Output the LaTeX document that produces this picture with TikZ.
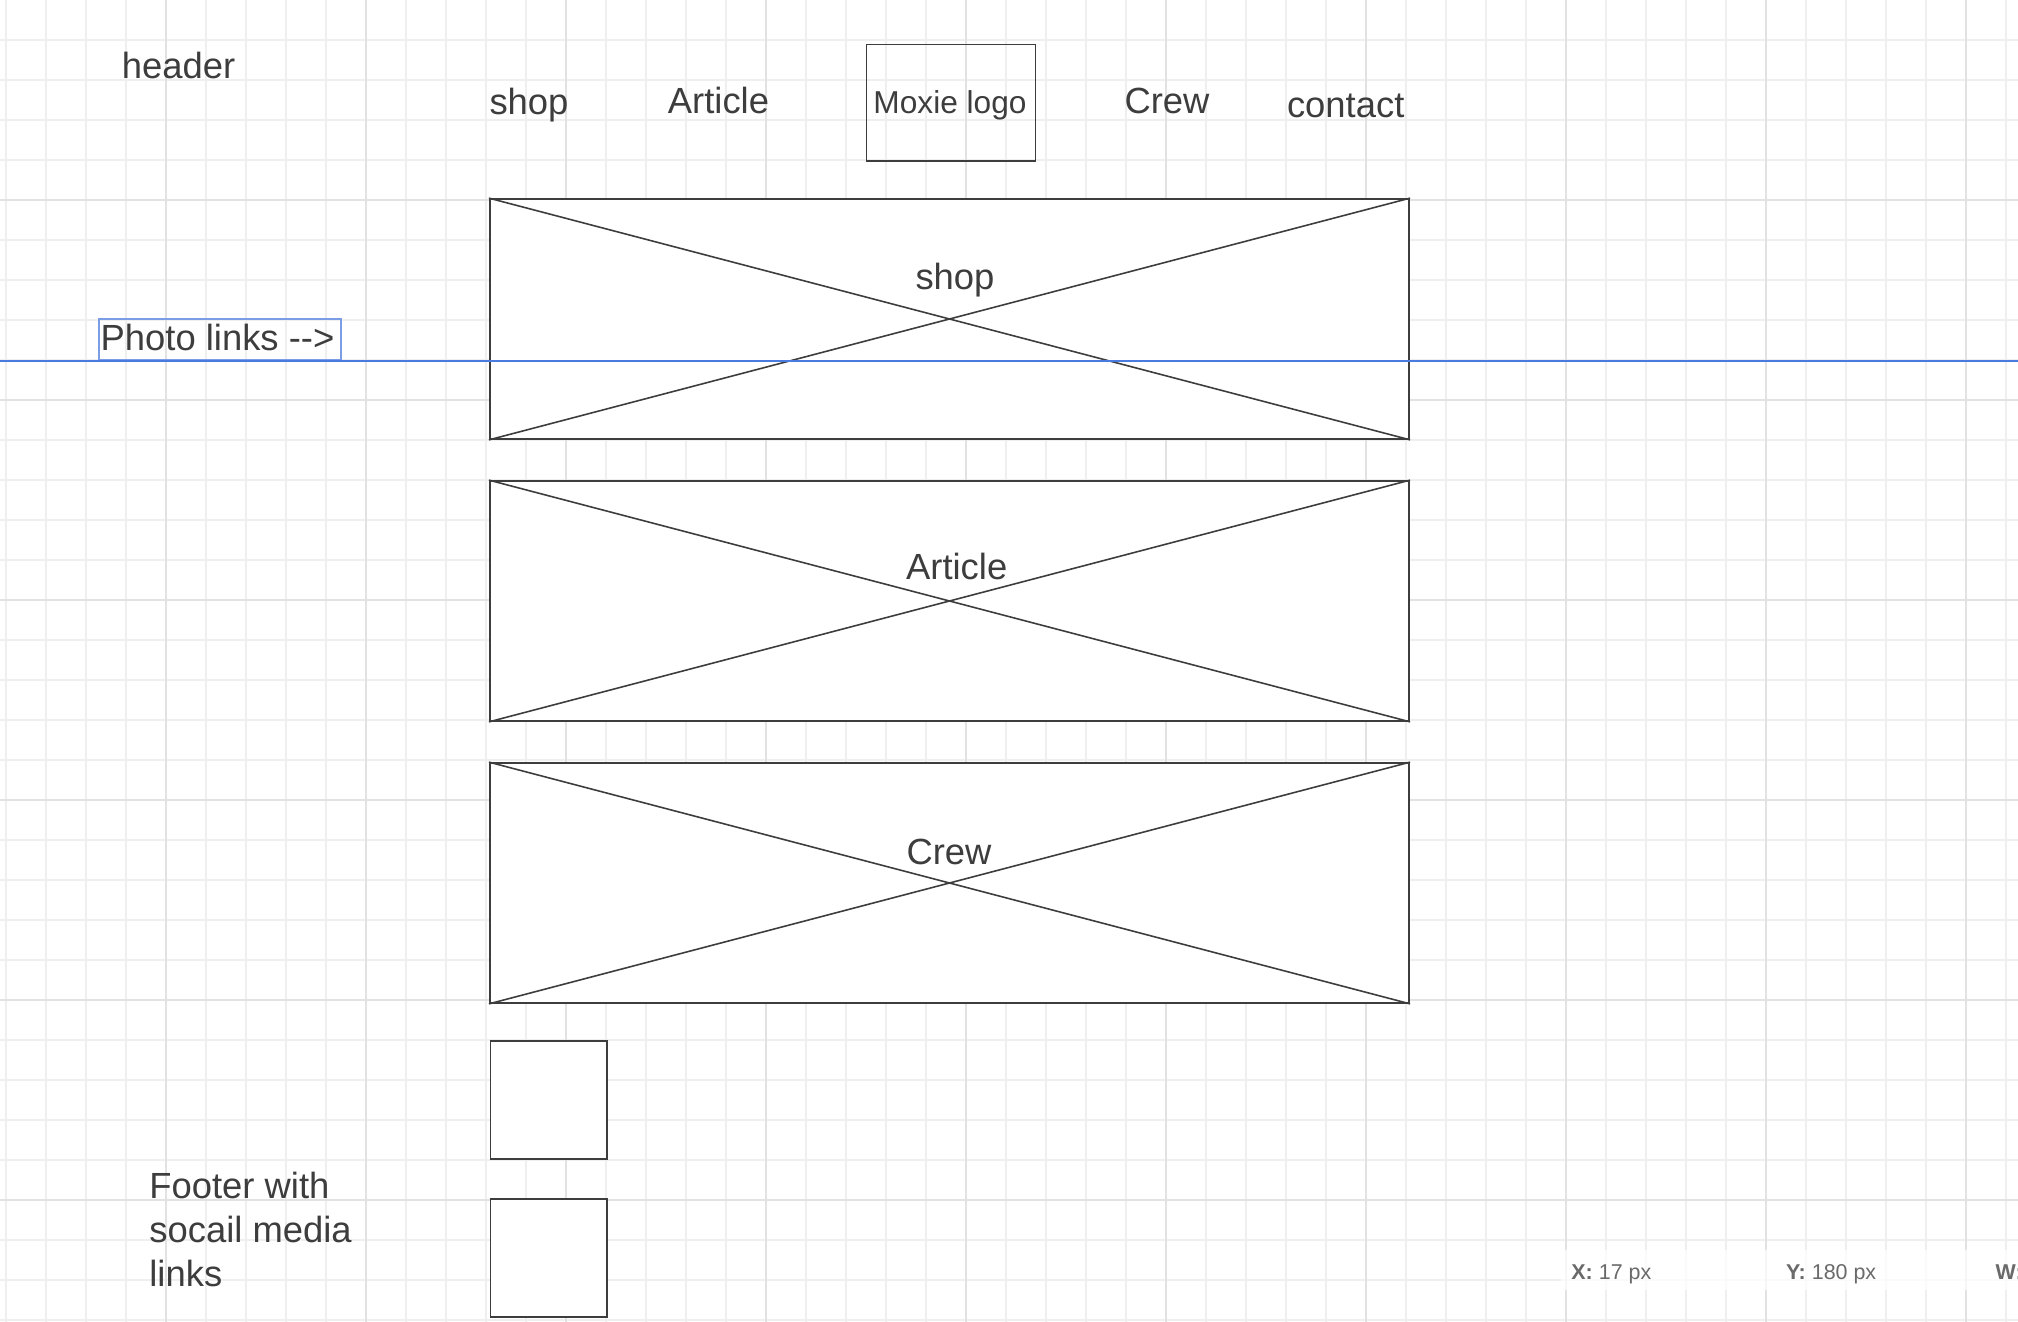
\documentclass[tikz,border=0pt]{standalone}
\usepackage{fontspec}
\setmainfont{Liberation Sans}

\definecolor{ink}{HTML}{3D3D3D}
\definecolor{gridlight}{HTML}{EFEFEF}
\definecolor{griddark}{HTML}{E2E2E2}
\definecolor{guideblue}{HTML}{4A7CDF}
\definecolor{boxblue}{HTML}{7B9DE6}
\definecolor{statusgray}{HTML}{6A6A6A}

\begin{document}
\begin{tikzpicture}[x=0.01cm, y=-0.01cm,
		gridminor/.style={draw=gridlight, line width=0.3pt},
		gridmajor/.style={draw=griddark, line width=0.45pt},
		txt/.style={text=ink, inner sep=0pt, font=\fontsize{10.35}{12.4}\selectfont},
		frame/.style={draw=ink, line width=0.45pt, inner sep=0pt},
		photo/.style={frame, fill=white, minimum width=9.19cm, minimum height=2.4cm},
		icon/.style={frame, fill=white, minimum width=1.165cm, minimum height=1.18cm},
		status/.style={text=statusgray, inner sep=0pt, anchor=base west, font=\fontsize{6.1}{7}\selectfont}]
		\useasboundingbox[fill=white] (0,0) rectangle (2018,1322);

		% background grid
		\foreach \gx in {6,46,...,2006} \draw[gridminor] (\gx,0) -- (\gx,1322);
		\foreach \gy in {40,80,...,1320} \draw[gridminor] (0,\gy) -- (2018,\gy);
		\foreach \gx in {166,366,...,1966} \draw[gridmajor] (\gx,0) -- (\gx,1322);
		\foreach \gy in {200,400,...,1200} \draw[gridmajor] (0,\gy) -- (2018,\gy);

		% header
		\node[txt, anchor=base] (header) at (178.6,78.3) {header};
		\node[txt, anchor=base] (navShop) at (529,115) {shop};
		\node[txt, anchor=base] (navArticle) at (718.5,114) {Article};
		\node[frame, minimum width=1.69cm, minimum height=1.163cm] (logo) at (951,102.9) {};
		\node[txt, anchor=base, font=\fontsize{9}{10}\selectfont] (logoText) at (950,114) {Moxie logo};
		\node[txt, anchor=base] (navCrew) at (1167,114) {Crew};
		\node[txt, anchor=base] (navContact) at (1345.7,117.7) {contact};

		% photo links
		\node[photo] (shopImg) at (949.5,319) {};
		\draw[frame] (shopImg.north west) -- (shopImg.south east) (shopImg.south west) -- (shopImg.north east);
		\node[txt, anchor=base] (shopLabel) at (955,290) {shop};
		\node[photo] (articleImg) at (949.5,601) {};
		\draw[frame] (articleImg.north west) -- (articleImg.south east) (articleImg.south west) -- (articleImg.north east);
		\node[txt, anchor=base] (articleLabel) at (956.7,580) {Article};
		\node[photo] (crewImg) at (949.5,883) {};
		\draw[frame] (crewImg.north west) -- (crewImg.south east) (crewImg.south west) -- (crewImg.north east);
		\node[txt, anchor=base] (crewLabel) at (949,864) {Crew};

		\coordinate (guideL) at (0,361);
		\coordinate (guideR) at (2018,361);
		\draw[guideblue, line width=0.55pt] (guideL) -- (guideR);
		\node[draw=boxblue, line width=0.45pt, inner sep=0pt, minimum width=2.42cm, minimum height=0.4cm] (linksBox) at (220,339.3) {};
		\node[txt, anchor=base west] (linksText) at (100,350.7) {Photo links -{}->};

		% footer
		\node[icon] (iconA) at (548.8,1100) {};
		\node[icon] (iconB) at (548.8,1258) {};
		\node[txt, anchor=base west, align=left] (footer) at (148.7,1286) {Footer with\\socail media\\links};

		% status bar
		\fill[white, opacity=0.7] (1561,1250) rectangle (2018,1290);
		\node[status] (posX) at (1570.7,1279.3) {\textbf{X:} 17 px};
		\node[status] (posY) at (1785.3,1279.3) {\textbf{Y:} 180 px};
		\node[status] (posW) at (1995,1279.3) {\textbf{W:}};
	\end{tikzpicture}
\end{document}
